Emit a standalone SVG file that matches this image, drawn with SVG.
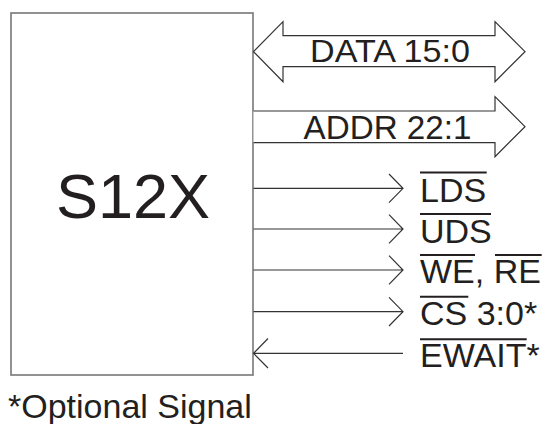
<svg xmlns="http://www.w3.org/2000/svg" width="543" height="424" viewBox="0 0 543 424">
<style>
text{font-family:'Liberation Sans',Arial,Helvetica,sans-serif;fill:#231f20}
.ln{fill:none;stroke:#333;stroke-width:1.2}
.bus{fill:#fff;stroke:#333;stroke-width:1.2;stroke-linejoin:miter}
.ov{stroke:#231f20;stroke-width:2}
</style>
<rect width="543" height="424" fill="#fff"/>
<g id="s12x">
<rect x="11" y="13" width="242" height="362" fill="#fff" stroke="#777" stroke-width="1.6"/>
<text x="133" y="218" font-size="63" text-anchor="middle">S12X</text>
</g>
<g id="connectors">
<polygon class="bus" points="253.5,51.7 283,21.7 283,35.7 495,35.7 495,21.7 525,51.7 495,81.7 495,66.7 283,66.7 283,81.7"/>
<path class="bus" d="M253.5,111 H495 V96.7 L525,126.7 L495,156.7 V142.7 H253.5"/>
<path class="ln" d="M253.5,188.3 H403 M389,174 L403,188.3 L389,202.6"/>
<path class="ln" d="M253.5,229 H403 M389,214.7 L403,229 L389,243.3"/>
<path class="ln" d="M253.5,270 H403 M389,255.7 L403,270 L389,284.3"/>
<path class="ln" d="M253.5,311.7 H403 M389,297.4 L403,311.7 L389,326"/>
<path class="ln" d="M253.5,353.3 H403 M268,338.5 L253.5,353.3 L268,368"/>
</g>
<g id="data">
<text x="310" y="61.7" font-size="32" textLength="160" lengthAdjust="spacingAndGlyphs">DATA 15:0</text>
</g>
<g id="addr">
<text x="303.5" y="138.8" font-size="33" textLength="168" lengthAdjust="spacingAndGlyphs">ADDR 22:1</text>
</g>
<g id="lds">
<text x="420" y="201.7" font-size="34">LDS</text>
<line class="ov" x1="420" y1="172.5" x2="486.7" y2="172.5"/>
</g>
<g id="uds">
<text x="420" y="242.7" font-size="34">UDS</text>
<line class="ov" x1="420" y1="214" x2="491" y2="214"/>
</g>
<g id="we-re">
<text x="420" y="283.3" font-size="34">WE, RE</text>
<line class="ov" x1="420" y1="255" x2="475" y2="255"/>
<line class="ov" x1="495" y1="255" x2="541.7" y2="255"/>
</g>
<g id="cs">
<text x="420" y="325" font-size="34">CS 3:0*</text>
<line class="ov" x1="420" y1="296.7" x2="468.3" y2="296.7"/>
</g>
<g id="ewait">
<text x="420" y="366.7" font-size="34">EWAIT*</text>
<line class="ov" x1="420" y1="339.3" x2="526.7" y2="339.3"/>
</g>
<g id="note">
<text x="8" y="417.5" font-size="34">*Optional Signal</text>
</g>
</svg>
